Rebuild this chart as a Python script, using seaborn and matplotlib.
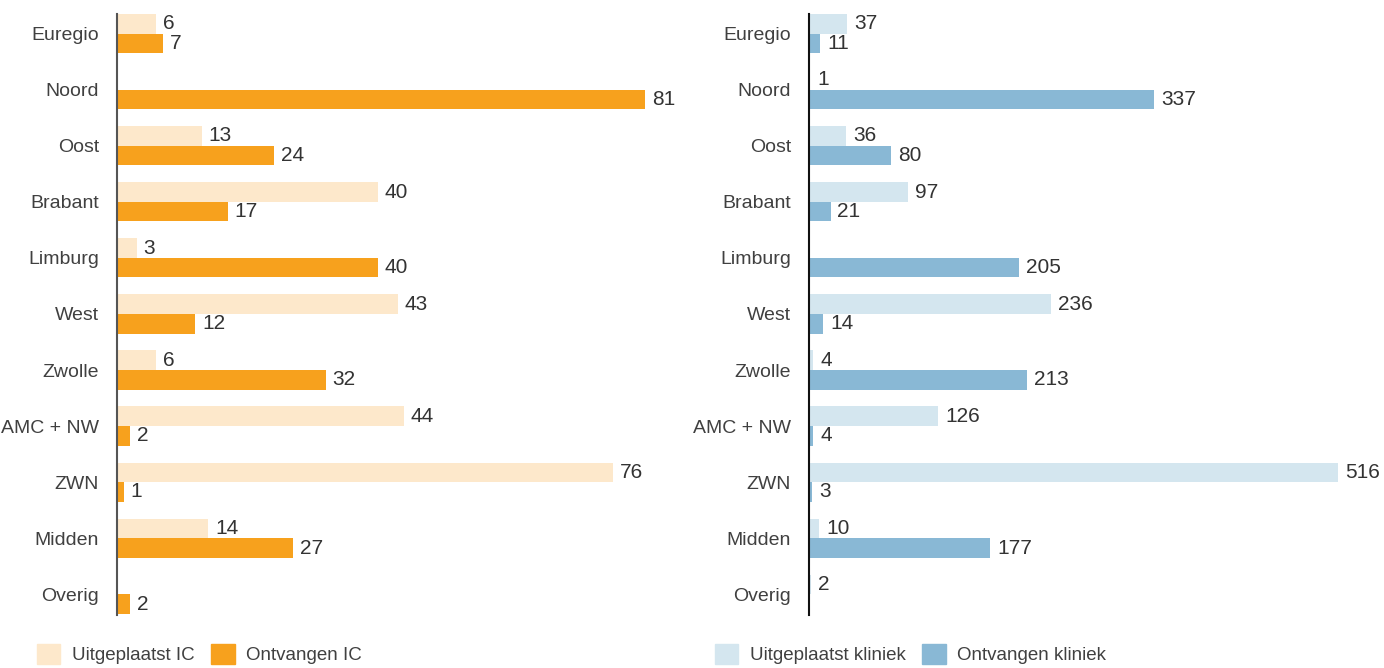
import numpy as np
import pandas as pd
import matplotlib.pyplot as plt
import seaborn as sns
from matplotlib.patches import Patch

sns.set_style("white")
plt.rcParams['font.family'] = ['Liberation Sans', 'DejaVu Sans']

regios = ["Euregio", "Noord", "Oost", "Brabant", "Limburg", "West", "Zwolle",
          "AMC + NW", "ZWN", "Midden", "Overig"]

# IC (0 = geen balk)
uitgeplaatst_ic = [6, 0, 13, 40, 3, 43, 6, 44, 76, 14, 0]
ontvangen_ic = [7, 81, 24, 17, 40, 12, 32, 2, 1, 27, 2]

# kliniek
uitgeplaatst_kliniek = [37, 1, 36, 97, 0, 236, 4, 126, 516, 10, 2]
ontvangen_kliniek = [11, 337, 80, 21, 205, 14, 213, 4, 3, 177, 0]

series_ic = ["Uitgeplaatst IC", "Ontvangen IC"]
series_kl = ["Uitgeplaatst kliniek", "Ontvangen kliniek"]
colors_ic = ["#FDE8CB", "#F7A11D"]
colors_kl = ["#D4E6EF", "#89B8D5"]


def long_df(a, b, names):
    return pd.DataFrame({
        "regio": regios * 2,
        "waarde": a + b,
        "reeks": [names[0]] * len(regios) + [names[1]] * len(regios),
    })


fig = plt.figure(figsize=(13.84, 6.68), dpi=100)
top = 1 - 14 / 668
bottom = 1 - 615 / 668
ax1 = fig.add_axes([117 / 1384, bottom, 563 / 1384, top - bottom])
ax2 = fig.add_axes([809 / 1384, bottom, 575 / 1384, top - bottom])

panels = [
    (ax1, long_df(uitgeplaatst_ic, ontvangen_ic, series_ic), series_ic, colors_ic, 86.3, "#555555"),
    (ax2, long_df(uitgeplaatst_kliniek, ontvangen_kliniek, series_kl), series_kl, colors_kl, 561, "#111111"),
]

for ax, df, names, cols, xmax, spc in panels:
    sns.barplot(data=df, y="regio", x="waarde", hue="reeks", hue_order=names,
                palette=cols, saturation=1, orient="h", width=0.7, linewidth=0,
                ax=ax, legend=False, errorbar=None)
    for cont in ax.containers:
        vals = cont.datavalues
        labels = [f"{int(v)}" if v > 0 else "" for v in vals]
        ax.bar_label(cont, labels=labels, padding=5, fontsize=15, color="#333333")
    ax.set_xlim(0, xmax)
    ax.set_ylim(10.37, -0.35)
    ax.set_xlabel("")
    ax.set_ylabel("")
    ax.set_xticks([])
    for s in ["top", "right", "bottom"]:
        ax.spines[s].set_visible(False)
    ax.spines["left"].set_color(spc)
    ax.spines["left"].set_linewidth(1.5)
    ax.tick_params(axis="y", length=0, pad=13, labelsize=14, labelcolor="#404040")

# legends
h_ic = [Patch(color=c, label=n) for c, n in zip(colors_ic, series_ic)]
h_kl = [Patch(color=c, label=n) for c, n in zip(colors_kl, series_kl)]
for handles, x0 in [(h_ic, 20), (h_kl, 698)]:
    fig.legend(handles=handles, loc="center left", bbox_to_anchor=(x0 / 1384, 1 - 654 / 668),
               ncol=2, frameon=False, fontsize=13.5, handlelength=1.25, handleheight=1.25,
               handletextpad=0.6, columnspacing=0.9, labelcolor="#404040")

fig.savefig("out.png", dpi=100)
